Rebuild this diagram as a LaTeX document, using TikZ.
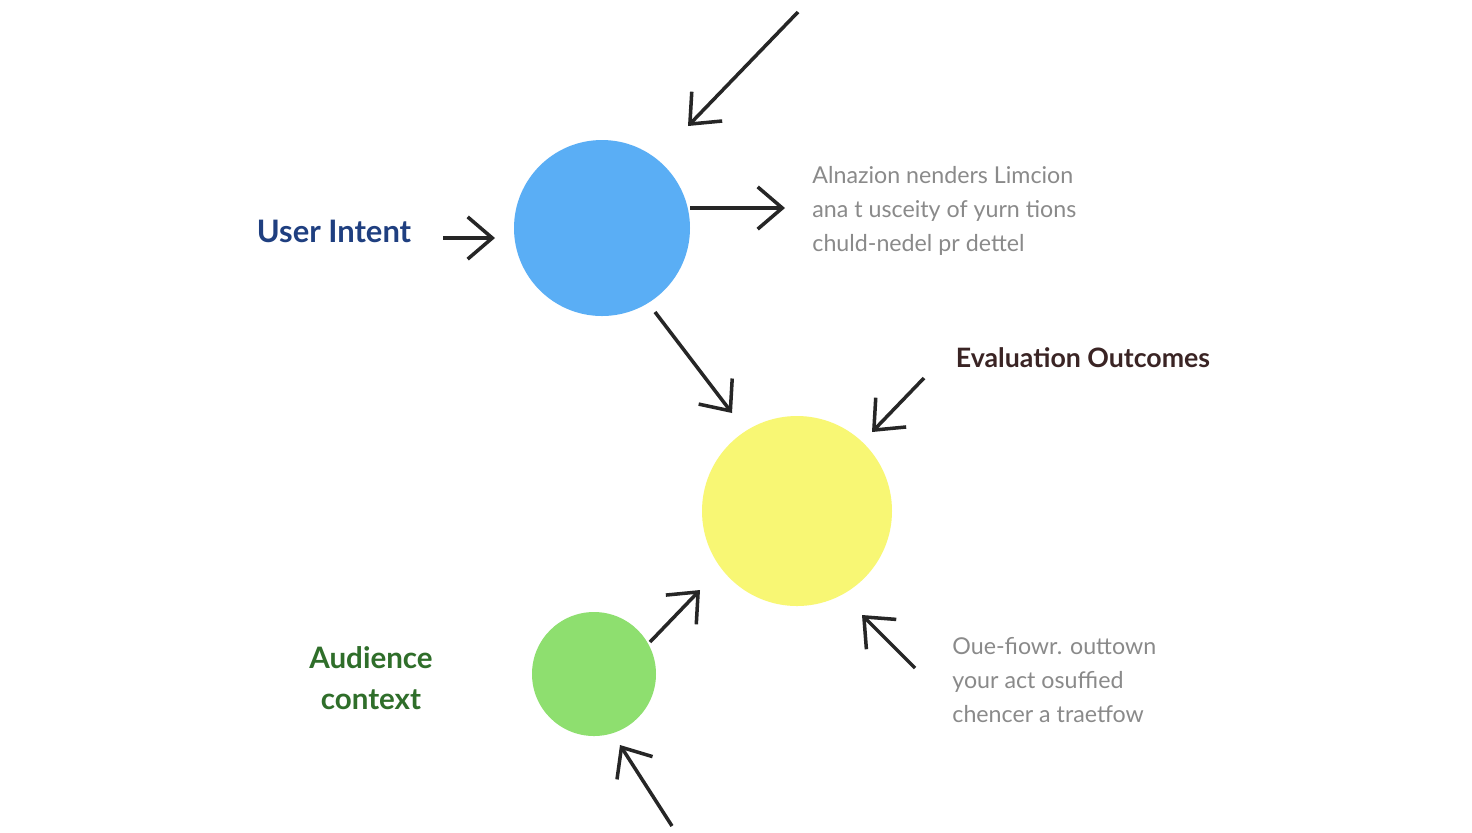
\documentclass[tikz,border=0pt]{standalone}
\usepackage{fontspec}
\setmainfont{Lato}
\usetikzlibrary{arrows.meta}
\definecolor{blueball}{HTML}{5AAEF5}
\definecolor{yellowball}{HTML}{F8F774}
\definecolor{greenball}{HTML}{8EDF6F}
\definecolor{navytext}{HTML}{1F3F80}
\definecolor{browntext}{HTML}{3A2424}
\definecolor{greentext}{HTML}{2F6E2A}
\definecolor{greytext}{HTML}{8A8A8A}
\tikzset{
	ball/.style={circle,inner sep=0pt},
	link/.style={-{Straight Barb[length=7pt,width=12pt]},line width=1pt,black!85},
	gloss/.style={align=left,anchor=west,text=greytext,font=\fontsize{6.6}{9.6}\selectfont},
}
\begin{document}
\begin{tikzpicture}[x=0.01cm,y=-0.01cm]
	\useasboundingbox[fill=white] (0,0) rectangle (1472,832);
	\node [ball,fill=blueball,minimum size=176*0.01cm] (intent) at (602,228) {};
	\node [ball,fill=yellowball,minimum size=190*0.01cm] (outcome) at (797,511) {};
	\node [ball,fill=greenball,minimum size=124*0.01cm] (audience) at (594,674) {};
	\node [text=navytext,font=\fontsize{8.8}{10}\selectfont\bfseries] (intentlbl) at (334,231) {User Intent};
	\node [text=browntext,font=\fontsize{7.6}{9}\selectfont\bfseries] (outcomelbl) at (1083,358) {Evaluation Outcomes};
	\node [text=greentext,font=\fontsize{8.4}{11.5}\selectfont\bfseries,align=center] (audiencelbl) at (371,678) {Audience\\context};
	\node [gloss] (topnote) at (800,211) {Alnazion nenders Limcion\\anа t usceity of yurn tions\\chuld-nedel pr dettel};
	\node [gloss] (lownote) at (940,680) {Oue-fiowr. outtown\\your act osuffied\\chencer a traetfow};
	\coordinate (topin) at (798,12);
	\coordinate (topend) at (688,126);
	\coordinate (intentin) at (443,238);
	\coordinate (intentend) at (495,238);
	\coordinate (intentout) at (690,208);
	\coordinate (noteend) at (785,208);
	\coordinate (midin) at (655,312);
	\coordinate (midend) at (732,413);
	\coordinate (outin) at (924,378);
	\coordinate (outend) at (872,432);
	\coordinate (lowin) at (915,668);
	\coordinate (lowend) at (862,615);
	\coordinate (greenin) at (650,642);
	\coordinate (greenend) at (700,590);
	\coordinate (botin) at (672,826);
	\coordinate (botend) at (620,745);
	\draw [link] (topin) -- (topend);
	\draw [link] (intentin) -- (intentend);
	\draw [link] (intentout) -- (noteend);
	\draw [link] (midin) -- (midend);
	\draw [link] (outin) -- (outend);
	\draw [link] (lowin) -- (lowend);
	\draw [link] (greenin) -- (greenend);
	\draw [link] (botin) -- (botend);
\end{tikzpicture}
\end{document}
